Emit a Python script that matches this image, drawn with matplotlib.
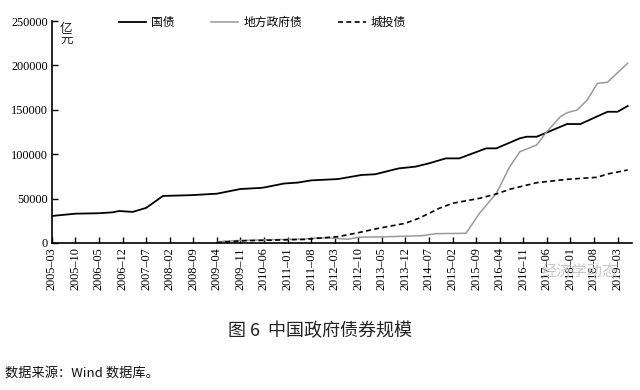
import matplotlib
matplotlib.use("Agg")
import matplotlib.pyplot as plt

# * Data (values in 亿元)
tickLabels = ["2005-03", "2005-10", "2006-05", "2006-12", "2007-07", "2008-02",
              "2008-09", "2009-04", "2009-11", "2010-06", "2011-01", "2011-08",
              "2012-03", "2012-10", "2013-05", "2013-12", "2014-07", "2015-02",
              "2015-09", "2016-04", "2016-11", "2017-06", "2018-01", "2018-08",
              "2019-03"]

guozhaiDates = ["2005-03", "2005-10", "2006-05", "2006-09", "2006-11", "2007-03",
                "2007-07", "2007-12", "2008-08", "2009-04", "2009-11", "2010-05",
                "2010-06", "2010-12", "2011-04", "2011-08", "2012-04", "2012-11",
                "2013-03", "2013-10", "2014-03", "2014-07", "2014-12", "2015-04",
                "2015-12", "2016-03", "2016-10", "2016-12", "2017-03", "2017-12",
                "2018-04", "2018-12", "2019-03", "2019-06"]
guozhaiValues = [30400, 33000, 33500, 34500, 36000, 35000,
                 39500, 53000, 53800, 55500, 60800, 62000,
                 62500, 67000, 68000, 70500, 72000, 76600,
                 77400, 84000, 86000, 89700, 95300, 95300,
                 106600, 106600, 117900, 119700, 119700, 134000,
                 134000, 147800, 147800, 154300]

difangDates = ["2009-04", "2009-06", "2009-12", "2010-06", "2011-06", "2011-10",
               "2012-02", "2012-07", "2012-10", "2013-06", "2014-05", "2014-09",
               "2015-06", "2015-10", "2016-03", "2016-07", "2016-10", "2017-03",
               "2017-06", "2017-10", "2017-12", "2018-03", "2018-06", "2018-09",
               "2018-12", "2019-03", "2019-06"]
difangValues = [500, 2000, 3000, 3500, 4500, 5600,
                5600, 4200, 6400, 7000, 8200, 10500,
                10900, 33400, 56000, 86000, 102800, 110400,
                125400, 142200, 146700, 149800, 161000, 179800,
                181000, 191800, 202400]

chengtouDates = ["2009-04", "2009-12", "2010-06", "2011-06", "2011-10", "2012-04",
                 "2012-10", "2013-04", "2013-12", "2014-04", "2014-08", "2014-10",
                 "2015-02", "2015-10", "2016-03", "2016-07", "2017-03", "2017-12",
                 "2018-09", "2018-12", "2019-06"]
chengtouValues = [500, 2500, 3000, 4000, 5300, 7100,
                  11600, 16500, 22200, 27800, 35200, 39000,
                  44700, 50300, 55200, 60500, 67900, 71700,
                  74000, 77700, 82200]

yTicks = [0, 50000, 100000, 150000, 200000, 250000]

serifFont = ["Liberation Serif", "Noto Sans CJK SC"]
cjkFont = ["Noto Sans CJK SC", "DejaVu Sans"]


def month_index(s):
    """ months since 2005-03 """
    y, m = s.split("-")
    return (int(y) - 2005) * 12 + int(m) - 3


fig = plt.figure(figsize=(6.4, 3.9), dpi=100)
ax = fig.add_axes([0.081, 0.377, 0.906, 0.569])

ax.plot([month_index(d) for d in guozhaiDates], guozhaiValues,
        color="black", lw=1.3, label="国债")
ax.plot([month_index(d) for d in difangDates], difangValues,
        color="#999999", lw=1.1, label="地方政府债")
ax.plot([month_index(d) for d in chengtouDates], chengtouValues,
        color="black", lw=1.2, ls=(0, (3, 2)), label="城投债")

ax.set_xlim(0, 172.2)
ax.set_ylim(0, 250000)
ax.set_xticks([month_index(t) for t in tickLabels])
ax.set_xticklabels([t.replace("-", "–") for t in tickLabels], rotation=90,
                   family=serifFont, fontsize=8.8)
ax.set_yticks(yTicks)
ax.set_yticklabels([str(v) for v in yTicks], family=serifFont, fontsize=8.8)
ax.tick_params(direction="in", length=4, width=1, pad=3)

for side in ["top", "right"]:
    ax.spines[side].set_visible(False)
for side in ["left", "bottom"]:
    ax.spines[side].set_linewidth(1.2)

ax.text(0.014, 0.995, "亿\n元", transform=ax.transAxes, va="top", ha="left",
        family=cjkFont, fontsize=9, linespacing=0.9, color="#222222")

leg = ax.legend(loc="upper left", bbox_to_anchor=(0.098, 1.07), ncol=3,
                frameon=False, prop={"family": cjkFont, "size": 8.5},
                handlelength=2.3, handletextpad=0.4, columnspacing=3.1)

# watermark over the last tick labels
fig.text(0.905, 0.303, "经济学动态", family=cjkFont, fontsize=11,
         color="#c8c8c8", style="italic", ha="center", va="center")

fig.text(0.5, 0.150, "图 6  中国政府债券规模", family=cjkFont, fontsize=13,
         ha="center", va="center", color="#222222")
fig.text(0.008, 0.042, "数据来源：Wind 数据库。", family=cjkFont, fontsize=9.5,
         ha="left", va="center", color="#111111")

fig.savefig("out.png", dpi=100)
